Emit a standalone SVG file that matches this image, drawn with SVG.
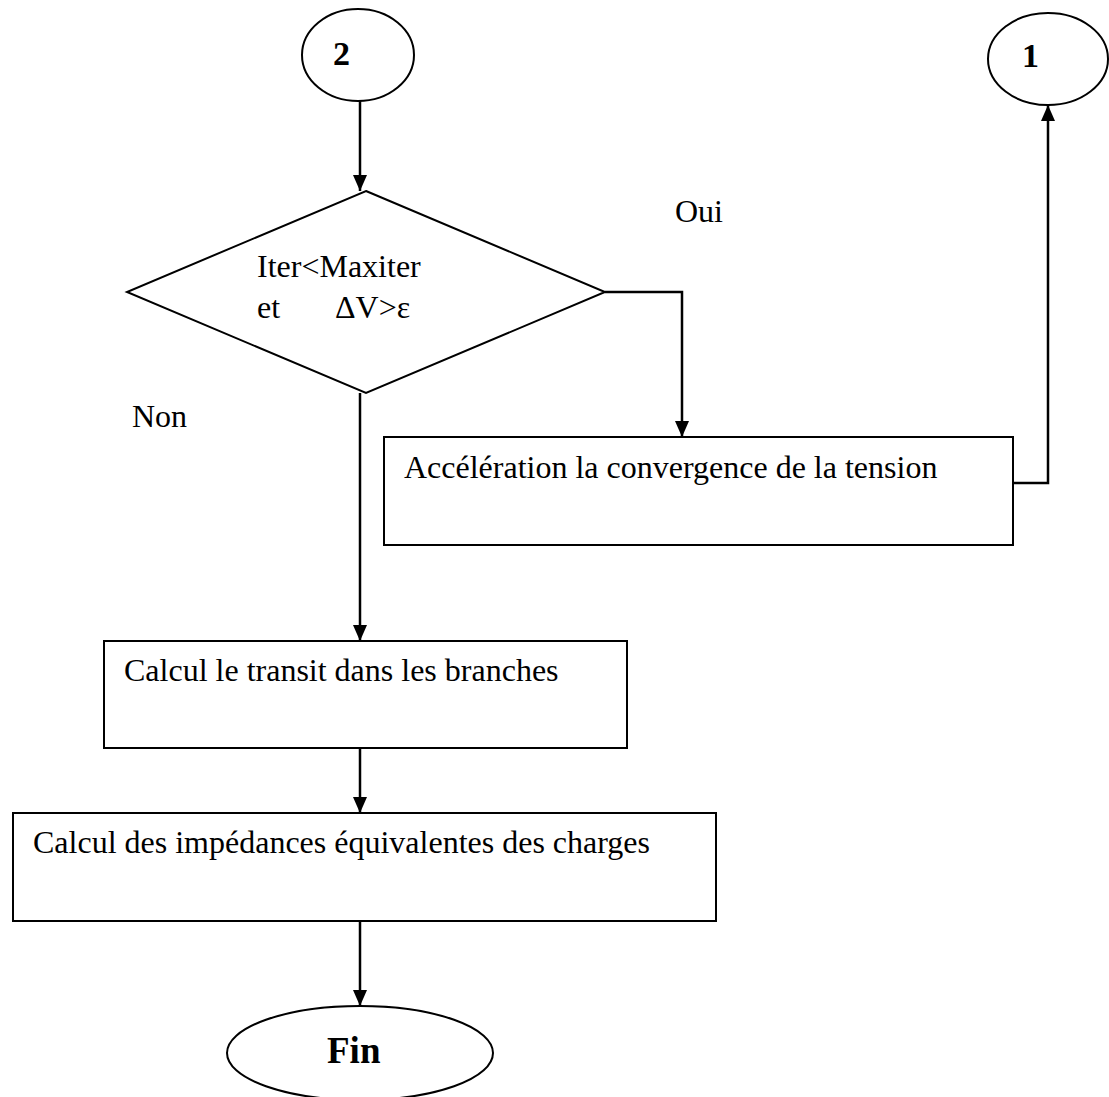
<svg xmlns="http://www.w3.org/2000/svg" width="1109" height="1097" viewBox="0 0 1109 1097">
<style>
.shape{fill:#fff;stroke:#000;stroke-width:2}
.t{font-family:"Liberation Serif","Times New Roman",serif;font-size:32px;fill:#000}
.b{font-family:"Liberation Serif","Times New Roman",serif;font-weight:bold;fill:#000}
.line{fill:none;stroke:#000;stroke-width:2.5}
</style>
<defs>
<marker id="arr" markerUnits="userSpaceOnUse" markerWidth="16" markerHeight="14" refX="16" refY="7" orient="auto">
<path d="M0,0 L16,7 L0,14 Z" fill="#000"/>
</marker>
</defs>
<rect width="1109" height="1097" fill="#fff"/>
<g id="connectors">
<path class="line" d="M360,100 L360,191" marker-end="url(#arr)"/>
<path class="line" d="M605,292 L682,292 L682,437" marker-end="url(#arr)"/>
<path class="line" d="M1013,483 L1048,483 L1048,105" marker-end="url(#arr)"/>
<path class="line" d="M360,393 L360,641" marker-end="url(#arr)"/>
<path class="line" d="M360,748 L360,813" marker-end="url(#arr)"/>
<path class="line" d="M360,921 L360,1006" marker-end="url(#arr)"/>
</g>
<g id="node-2">
<ellipse class="shape" cx="358" cy="55" rx="56" ry="46"/>
<text class="b" x="333" y="65" font-size="34">2</text>
</g>
<g id="node-1">
<ellipse class="shape" cx="1048" cy="59" rx="60" ry="46"/>
<text class="b" x="1022" y="67" font-size="34">1</text>
</g>
<g id="decision">
<polygon class="shape" points="366,191 605,292 366,393 127,292"/>
<text class="t" x="257" y="277">Iter&lt;Maxiter</text>
<text class="t" x="257" y="318">et</text>
<text class="t" x="335" y="318">ΔV&gt;ε</text>
</g>
<g id="label-oui"><text class="t" x="675" y="222">Oui</text></g>
<g id="label-non"><text class="t" x="132" y="427">Non</text></g>
<g id="box-acceleration">
<rect class="shape" x="384" y="437" width="629" height="108"/>
<text class="t" x="404" y="478">Accélération la convergence de la tension</text>
</g>
<g id="box-transit">
<rect class="shape" x="104" y="641" width="523" height="107"/>
<text class="t" x="124" y="681">Calcul le transit dans les branches</text>
</g>
<g id="box-impedances">
<rect class="shape" x="13" y="813" width="703" height="108"/>
<text class="t" x="33" y="853">Calcul des impédances équivalentes des charges</text>
</g>
<g id="node-fin">
<ellipse class="shape" cx="360" cy="1053" rx="133" ry="47"/>
<text class="b" x="327" y="1063" font-size="37">Fin</text>
</g>
</svg>
